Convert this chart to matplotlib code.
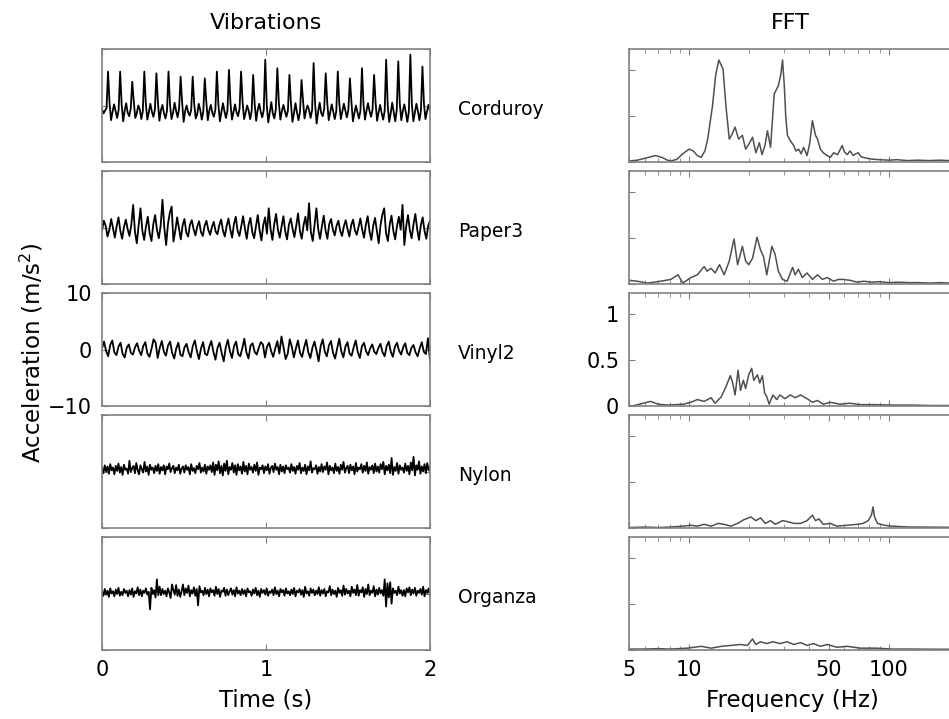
import numpy as np
import matplotlib.pyplot as plt
from matplotlib.ticker import NullFormatter

materials = ["Corduroy", "Paper3", "Vinyl2", "Nylon", "Organza"]

# acceleration samples (m/s^2), evenly spaced over 2 s
corduroy = [
    -0.6, -1.4, -0.9, -0.5,
    6.0, 0.4, -2.6, -1.1, 0.2, -1.0, -2.2, -0.8,
    6.0, 0.2, -2.8, -0.9, 0.4, -1.3, -1.9, -0.6,
    4.2, 0.8, -2.2, -1.4, 0.0, -0.7, -2.4, -1.0,
    6.0, 0.3, -2.5, -1.2, 0.3, -1.1, -2.0, -0.7,
    5.7, 0.5, -2.7, -0.8, 0.1, -1.4, -2.3, -0.9,
    6.0, 0.1, -2.4, -1.3, 0.5, -0.9, -2.1, -0.6,
    5.1, 0.6, -2.9, -1.0, 0.0, -1.2, -1.8, -0.8,
    5.1, 0.3, -2.3, -1.5, 0.3, -0.8, -2.5, -1.1,
    4.8, 0.7, -2.6, -0.9, 0.1, -1.3, -2.0, -0.7,
    6.0, 0.2, -2.8, -1.2, 0.4, -1.0, -2.2, -0.9,
    6.3, 0.4, -2.5, -1.1, 0.2, -1.2, -1.9, -0.6,
    6.0, 0.6, -2.4, -1.3, 0.0, -0.9, -2.4, -1.0,
    5.4, 0.3, -2.7, -0.8, 0.3, -1.1, -2.1, -0.8,
    8.1, 0.1, -3.0, -1.2, 0.6, -1.4, -2.3, -0.7,
    6.6, 0.5, -2.5, -1.0, 0.1, -1.0, -2.0, -0.9,
    5.4, 0.4, -2.9, -1.4, 0.4, -1.2, -2.6, -1.1,
    4.5, 0.8, -2.3, -0.9, 0.0, -0.8, -2.2, -0.8,
    7.5, 0.2, -3.2, -1.1, 0.5, -1.3, -1.9, -0.6,
    5.7, 0.6, -2.6, -1.2, 0.2, -1.1, -2.4, -1.0,
    6.0, 0.3, -2.4, -1.0, 0.3, -0.9, -2.1, -0.8,
    4.8, 0.7, -2.8, -1.3, 0.0, -1.2, -2.3, -0.9,
    6.6, 0.2, -2.5, -0.9, 0.4, -1.0, -2.0, -0.7,
    5.4, 0.5, -2.7, -1.2, 0.1, -1.3, -2.5, -1.0,
    8.1, 0.1, -2.9, -1.4, 0.5, -1.1, -2.8, -0.8,
    7.8, 0.4, -2.6, -1.0, 0.2, -1.2, -2.9, -1.1,
    9.0, 0.2, -2.8, -1.3, 0.3, -1.0, -2.6, -0.9,
    6.9, 0.3, -2.4, -1.1, 0.1, -0.9,
]

paper3 = [
    -0.5, 1.2, 0.3, -1.6, -0.4, 1.5, -0.2, -1.8, 0.2, 1.8, -0.6, -2.0, 0.1, 1.4, -0.3, -1.5, 0.5, 4.0, -0.8, -2.8,
    0.4, 3.4, -0.5, -2.2, 0.2, 1.9, -1.0, -2.4, 0.6, 2.2, -0.4, -1.9, 0.3, 4.9, 0.0, -3.1, 0.6, 2.6, 3.7, -2.5,
    -0.6, 1.8, -0.2, -2.1, 0.4, 1.5, -0.9, -1.6, 0.5, 1.3, -0.3, -1.4, 0.2, 1.1, -0.8, -1.5, 0.3, 1.2, -0.4, -1.3,
    0.1, 1.0, -0.7, -1.2, 0.4, 1.4, -0.5, -1.6, 0.2, 1.6, -0.3, -1.8, 0.6, 1.9, -0.6, -1.5, 0.3, 2.0, -0.2, -2.0,
    0.5, 1.7, -0.8, -1.9, 0.2, 2.2, -0.5, -2.3, 0.4, 1.8, -1.1, 3.4, -0.3, -2.2, 0.6, 2.4, -0.4, -1.8, 0.2, 2.0,
    -0.7, -2.1, 0.5, 1.6, -0.2, -1.7, 0.3, 2.5, -0.6, -2.0, 0.4, 1.9, -0.5, 4.3, -0.8, -2.4, 0.5, 3.4, -0.3, -2.0,
    0.2, 2.1, -0.5, -2.0, 0.6, 1.5, -0.4, -1.4, 0.3, 1.2, -0.6, -1.5, 0.2, 1.3, -0.3, -1.6, 0.4, 1.4, -0.5, -1.3,
    0.1, 1.6, -0.4, -1.8, 0.5, 2.0, -0.7, -2.2, 0.3, 1.7, -0.6, -2.8, 0.4, 2.3, 3.4, -1.0, -2.4, 0.5, 2.1, -0.6,
    -2.1, 0.3, 1.9, -0.4, 4.0, -3.1, 0.2, 2.2, -0.5, -1.9, 0.6, 2.4, -0.3, -2.2, 0.4, 1.8, -0.6, -2.0, 0.3, 1.2,
]

vinyl2 = [
    0.2, 1.4, -0.3, -1.2, 0.8, 1.6, -0.5, -1.0, 0.5, 1.2, -0.8, -1.4, 0.3, 0.9, -0.6, -0.9, 0.4, 1.1, -0.2, -1.0,
    0.6, 1.3, -0.7, -1.3, 0.1, 1.8, 1.2, -1.5, 0.3, 1.5, -0.4, -1.1, 0.7, 1.4, -0.6, -1.6, 0.2, 1.2, -0.9, -1.2,
    0.4, 1.0, -0.5, -1.4, 0.6, 1.6, -0.3, -1.7, 0.2, 1.3, -0.8, -1.0, 0.5, 1.5, -0.4, -1.8, 0.3, 1.2, -0.6, -2.1,
    0.4, 1.7, -0.3, -1.5, 0.6, 1.4, -0.8, -1.2, 0.2, 1.9, -0.5, -1.6, 0.7, 1.1, -0.4, -0.9, 0.3, 1.3, 0.9, -1.4,
    0.5, 1.2, -0.3, -1.3, 0.2, 1.5, -0.7, 2.3, 0.4, -1.7, -0.8, 1.8, 0.5, -1.4, 0.2, 1.6, -0.6, -1.3, 0.4, 1.7,
    -0.5, -1.5, 0.3, 1.4, -0.2, -2.1, 0.6, 1.8, -0.4, -1.2, 0.7, 1.5, -0.6, -1.6, 0.2, 1.9, -0.3, -1.4, 0.5, 1.3,
    -0.7, -1.1, 0.4, 1.6, -0.5, -1.5, 0.6, 1.2, -0.3, -1.0, 0.2, 0.9, -0.4, -0.8, 0.3, 1.0, -0.5, -1.2, 0.6, 1.4,
    -0.4, -1.3, 0.5, 1.2, -0.2, -0.9, 0.4, 1.1, -0.6, -1.0, 0.3, 0.8, -0.5, -1.2, 0.2, 1.3, -0.4, -0.8, 2.0, -1.9,
]

nylon = [
    0.6, -0.3, 1.1, 0.0, 0.9, -0.4, 1.3, 0.2, 0.7, -0.5, 1.0, 0.1, 1.4, -0.2, 0.8, -0.6, 1.2, 0.3, 0.5, -0.4,
    1.9, -0.1, 0.6, 1.0, -0.3, 1.5, 0.2, -0.5, 1.1, 0.4, -0.2, 1.7, 0.0, 0.9, -0.6, 1.2, 0.3, 0.7, -0.3, 1.0,
    0.1, 1.3, -0.4, 0.8, 0.2, 1.1, -0.5, 0.9, 0.4, 1.4, -0.1, 0.6, 1.0, -0.3, 0.7, 0.2, 1.2, -0.4, 0.5, 0.9,
    -0.2, 1.1, 0.3, 0.8, -0.5, 1.3, 0.1, 0.6, -0.3, 1.0, 0.4, 1.5, -0.2, 0.7, 0.0, 1.2, -0.4, 0.9, 0.3, 1.1,
    -0.1, 1.6, -0.6, 1.2, 0.2, 1.8, -0.3, 1.0, -0.7, 1.4, 0.1, 1.9, -0.5, 0.8, 0.3, 1.5, -0.2, 1.1, -0.6, 1.3,
    0.2, 0.9, -0.4, 1.7, 0.0, 1.0, -0.5, 1.4, 0.3, 0.8, -0.2, 1.2, 0.1, 1.6, -0.6, 0.7, 0.4, 1.1, -0.3, 0.9,
    0.2, 1.3, -0.4, 0.6, 1.0, -0.1, 1.4, 0.3, 0.8, -0.5, 1.2, 0.0, 0.9, -0.3, 1.1, 0.4, 0.7, -0.2, 1.3, 0.1,
    0.8, -0.4, 1.0, 0.3, 1.5, -0.3, 0.7, 0.1, 1.2, -0.5, 0.9, 0.2, 1.8, -0.2, 0.6, 0.4, 1.1, -0.4, 0.8, 0.0,
    1.3, -0.1, 0.9, 0.3, 1.6, -0.5, 1.0, 0.2, 0.7, -0.3, 1.4, 0.1, 0.8, -0.4, 1.2, 0.3, 1.7, -0.2, 0.6, 1.0,
    -0.3, 1.2, 0.2, 0.9, -0.5, 1.5, 0.0, 0.7, 0.4, 1.3, -0.2, 1.0, 0.1, 1.6, -0.4, 0.8, 0.3, 1.1, -0.3, 1.4,
    0.0, 0.9, -0.2, 1.3, 0.4, 1.7, -0.5, 1.0, 0.2, 1.2, -0.3, 2.4, -0.6, 0.8, 0.1, 1.5, -0.4, 1.1, 0.3, 0.7,
    -0.2, 1.4, 0.1, 1.0, -0.5, 1.6, 0.2, 2.6, -0.7, 1.1, 0.3, 1.8, -0.4, 0.9, 0.0, 1.3, -0.3, 1.5, 0.2, 0.8,
]

organza = [
    0.3, -0.4, 0.8, -0.2, 0.5, -0.6, 0.9, 0.0, 0.4, -0.5, 0.7, -0.1, 1.0, -0.4, 0.3, -0.3, 0.8, 0.1, 0.5, -0.5,
    0.6, -0.2, 0.9, -0.6, 0.4, 0.0, 1.1, -0.3, 0.7, -0.5, 0.5, 0.1, 0.9, -0.2, 0.3, -2.8, 1.0, -0.1, 0.6, -0.7,
    2.5, -0.3, 1.2, -0.3, 0.8, -0.1, 0.5, -0.5, 0.9, 0.2, -0.8, 1.6, 0.6, -0.2, 1.5, -0.4, 0.7, -0.6, 0.4, 1.6,
    -0.3, 0.9, 0.1, 1.4, -0.5, 0.6, 0.0, 1.1, -0.4, 0.8, -2.1, 1.3, 0.2, 0.5, -0.3, 1.0, -0.1, 0.7, -0.5, 0.9,
    0.2, 0.6, -0.4, 1.2, -0.1, 0.8, -0.6, 0.5, 0.3, 1.0, -0.4, 0.7, -0.3, 0.4, 0.9, -0.2, 0.6, -0.5, 1.1, 0.0,
    0.5, -0.3, 0.8, -0.1, 0.6, -0.5, 0.9, 0.2, 0.4, -0.4, 0.7, 0.0, 1.0, -0.3, 0.5, -0.6, 0.8, 0.1, 0.6, -0.2,
    0.9, -0.4, 0.4, 0.1, 0.7, -0.3, 1.1, -0.1, 0.5, -0.5, 0.8, 0.2, 0.6, -0.4, 0.9, 0.0, 0.4, -0.3, 0.7, -0.1,
    1.0, -0.5, 0.5, 0.2, 0.8, -0.2, 0.6, -0.6, 1.2, 0.0, 0.4, -0.4, 0.9, 0.1, 0.7, -0.3, 0.5, -0.1, 1.1, -0.4,
    0.6, 0.0, 0.8, -0.5, 0.4, 0.2, 1.3, -0.3, 0.7, -0.1, 0.5, -0.6, 1.0, 0.1, 0.6, -0.4, 1.4, -0.2, 0.8, 0.0,
    0.5, -0.5, 1.2, 0.1, 0.7, -0.3, 1.5, -0.4, 0.6, 0.2, 1.1, -0.6, 0.8, -0.1, 1.6, -0.3, 0.5, 0.1, 1.3, -0.5,
    0.7, -0.2, 1.0, 0.0, 0.6, -0.4, 2.5, -2.3, 1.8, -0.7, 2.0, -1.8, 0.9, 0.1, 0.5, -0.3, 1.2, 0.0, 0.6, -0.4,
    0.6, -0.5, 0.9, 0.2, 1.1, -0.3, 0.7, 0.0, 1.0, -0.4, 0.5, 0.1, 0.8, -0.2, 1.2, -0.5, 0.6, 0.1, 0.9, -0.3,
]

# spectra: (frequency Hz, magnitude)
corduroy_fft = [
    (5.0, 0.01), (5.5, 0.02), (6.0, 0.04), (6.5, 0.06), (6.8, 0.07), (7.3, 0.05), (7.8, 0.02), (8.1, 0.01),
    (8.7, 0.03), (9.3, 0.09), (10.0, 0.14), (10.5, 0.12), (11.0, 0.07), (11.5, 0.05), (12.0, 0.12), (12.4, 0.25),
    (13.1, 0.61), (13.6, 0.95), (14.1, 1.11), (14.8, 1.01), (15.3, 0.61), (15.9, 0.25), (16.4, 0.30), (17.0, 0.38),
    (17.7, 0.25), (18.5, 0.29), (19.2, 0.14), (20.0, 0.20), (20.8, 0.27), (21.6, 0.10), (22.5, 0.21), (23.2, 0.08),
    (24.0, 0.18), (24.7, 0.34), (25.6, 0.16), (26.7, 0.74), (28.0, 0.83), (28.8, 0.95), (29.4, 1.11), (30.0, 0.83),
    (30.5, 0.50), (31.1, 0.29), (32.2, 0.23), (33.4, 0.18), (34.3, 0.12), (35.4, 0.14), (36.4, 0.09), (37.5, 0.16),
    (39.0, 0.07), (40.2, 0.20), (41.5, 0.45), (43.0, 0.29), (44.0, 0.25), (45.5, 0.14), (47.0, 0.10), (49.3, 0.07),
    (51.0, 0.05), (53.0, 0.10), (55.5, 0.08), (58.5, 0.18), (60.0, 0.11), (62.0, 0.08), (64.0, 0.12), (66.5, 0.07),
    (68.5, 0.09), (70.5, 0.10), (72.5, 0.06), (74.5, 0.05), (78.0, 0.04), (83.5, 0.03), (90.0, 0.025), (100.0, 0.02),
    (110.0, 0.025), (125.0, 0.015), (140.0, 0.02), (160.0, 0.015), (180.0, 0.02), (200.0, 0.015), (215.0, 0.02),
]

paper3_fft = [
    (5.0, 0.04), (5.5, 0.03), (6.2, 0.01), (6.7, 0.02), (7.2, 0.03), (8.1, 0.05), (8.8, 0.10), (9.3, 0.01),
    (10.2, 0.07), (11.0, 0.10), (11.9, 0.19), (12.3, 0.14), (12.9, 0.17), (13.5, 0.12), (14.2, 0.21), (15.0, 0.10),
    (15.9, 0.25), (16.8, 0.49), (17.5, 0.21), (18.5, 0.41), (19.2, 0.25), (19.9, 0.21), (20.8, 0.28), (21.9, 0.51),
    (22.8, 0.37), (23.6, 0.30), (24.5, 0.10), (26.0, 0.41), (27.0, 0.32), (28.0, 0.14), (29.4, 0.05), (31.0, 0.03),
    (33.0, 0.18), (34.0, 0.10), (35.3, 0.16), (36.9, 0.07), (39.0, 0.12), (41.5, 0.05), (44.0, 0.10), (46.5, 0.05),
    (49.3, 0.07), (53.0, 0.03), (56.0, 0.05), (59.0, 0.05), (64.0, 0.04), (69.5, 0.02), (75.0, 0.03), (82.0, 0.02),
    (90.0, 0.025), (100.0, 0.015), (112.0, 0.02), (125.0, 0.015), (140.0, 0.015), (160.0, 0.01), (180.0, 0.015),
    (200.0, 0.01), (215.0, 0.01),
]

vinyl2_fft = [
    (5.0, 0.0), (5.2, 0.0), (5.9, 0.03), (6.4, 0.05), (7.0, 0.02), (7.8, 0.01), (9.4, 0.02), (10.2, 0.04),
    (11.0, 0.07), (11.9, 0.05), (12.9, 0.09), (13.5, 0.03), (14.5, 0.10), (15.3, 0.21), (16.1, 0.33), (16.5, 0.26),
    (17.0, 0.12), (17.6, 0.39), (18.1, 0.17), (18.7, 0.28), (19.2, 0.19), (19.9, 0.34), (20.6, 0.41), (21.1, 0.28),
    (22.0, 0.34), (22.6, 0.25), (23.3, 0.33), (23.9, 0.14), (24.5, 0.10), (25.2, 0.02), (26.3, 0.12), (27.5, 0.07),
    (28.5, 0.12), (30.2, 0.08), (32.2, 0.12), (34.0, 0.09), (36.2, 0.12), (39.0, 0.08), (41.5, 0.04), (44.0, 0.06),
    (47.0, 0.02), (51.0, 0.04), (57.0, 0.02), (64.0, 0.03), (72.0, 0.015), (85.0, 0.015), (104.0, 0.01),
    (130.0, 0.01), (160.0, 0.005), (215.0, 0.005),
]

nylon_fft = [
    (5.0, 0.005), (6.0, 0.01), (7.0, 0.005), (8.0, 0.01), (9.3, 0.02), (10.2, 0.03), (11.0, 0.02), (11.9, 0.04),
    (12.9, 0.02), (14.0, 0.05), (15.0, 0.04), (16.2, 0.02), (17.5, 0.05), (18.8, 0.09), (20.4, 0.12), (21.6, 0.08),
    (22.8, 0.11), (24.1, 0.05), (25.6, 0.08), (27.0, 0.04), (29.4, 0.08), (31.0, 0.07), (33.5, 0.05), (36.2, 0.05),
    (39.0, 0.08), (41.5, 0.14), (43.0, 0.08), (44.7, 0.10), (47.0, 0.04), (51.0, 0.05), (55.0, 0.02), (62.0, 0.03),
    (69.5, 0.04), (74.5, 0.05), (79.0, 0.08), (82.0, 0.14), (83.5, 0.23), (85.0, 0.12), (88.0, 0.05), (95.0, 0.03),
    (104.0, 0.02), (115.0, 0.015), (128.0, 0.01), (150.0, 0.01), (180.0, 0.008), (215.0, 0.008),
]

organza_fft = [
    (5.0, 0.01), (6.0, 0.01), (7.0, 0.015), (8.0, 0.01), (9.8, 0.02), (11.5, 0.04), (12.9, 0.02), (14.5, 0.04),
    (16.2, 0.05), (18.1, 0.06), (19.6, 0.05), (20.8, 0.12), (21.6, 0.06), (22.8, 0.09), (24.5, 0.07), (26.3, 0.09),
    (28.5, 0.07), (31.0, 0.09), (33.5, 0.06), (36.2, 0.08), (39.0, 0.05), (42.0, 0.07), (45.5, 0.04), (49.3, 0.06),
    (55.0, 0.03), (62.0, 0.04), (72.0, 0.02), (87.0, 0.02), (104.0, 0.01), (130.0, 0.01), (170.0, 0.008),
    (215.0, 0.008),
]

signals = [corduroy, paper3, vinyl2, nylon, organza]
spectra = [corduroy_fft, paper3_fft, vinyl2_fft, nylon_fft, organza_fft]

W, H = 949, 719
fig = plt.figure(figsize=(W / 100, H / 100), dpi=100)

frame = "#808080"
row_tops = [49, 171, 293, 415, 537]
row_h = 113


def style(ax):
    for s in ax.spines.values():
        s.set_color(frame)
        s.set_linewidth(1.2)
    ax.tick_params(which="both", direction="in", top=True, right=True,
                   color=frame, labelsize=15, pad=7)
    ax.tick_params(which="major", length=4)
    ax.tick_params(which="minor", length=3)


for i, (name, sig, spec) in enumerate(zip(materials, signals, spectra)):
    bottom = 1 - (row_tops[i] + row_h) / H

    ax = fig.add_axes([102 / W, bottom, 328 / W, row_h / H])
    t = np.linspace(0, 2, len(sig))
    ax.plot(t, sig, color="black", lw=1.3)
    ax.set_xlim(0, 2)
    ax.set_ylim(-10, 10)
    ax.set_xticks([0, 1, 2])
    ax.set_yticks([-10, 0, 10])
    style(ax)
    if i != 4:
        ax.set_xticklabels([])
    if i != 2:
        ax.set_yticklabels([])

    fig.text(458 / W, 1 - (row_tops[i] + row_h / 2 + 4) / H, name,
             fontsize=13.5, ha="left", va="center")

    bx = fig.add_axes([629 / W, bottom, 326 / W, row_h / H])
    f, a = zip(*spec)
    bx.plot(f, a, color="#505050", lw=1.1)
    bx.set_xscale("log")
    bx.set_xlim(5, 215)
    bx.set_ylim(0, 1.23)
    bx.set_xticks([5, 10, 50, 100])
    bx.set_xticklabels(["5", "10", "50", "100"])
    bx.xaxis.set_minor_formatter(NullFormatter())
    bx.set_yticks([0, 0.5, 1])
    bx.set_yticklabels(["0", "0.5", "1"])
    style(bx)
    if i != 4:
        bx.set_xticklabels([])
    if i != 2:
        bx.set_yticklabels([])

fig.text(266 / W, 1 - 23 / H, "Vibrations", fontsize=16, ha="center", va="center")
fig.text(790 / W, 1 - 23 / H, "FFT", fontsize=16, ha="center", va="center")
fig.text(266 / W, 1 - 700 / H, "Time (s)", fontsize=16.5, ha="center", va="center")
fig.text(792 / W, 1 - 700 / H, "Frequency (Hz)", fontsize=16.5, ha="center", va="center")
fig.text(32 / W, 1 - 353 / H, "Acceleration (m/s$^2$)", fontsize=16.5,
         rotation=90, ha="center", va="center")

fig.savefig("out.png", dpi=100)
